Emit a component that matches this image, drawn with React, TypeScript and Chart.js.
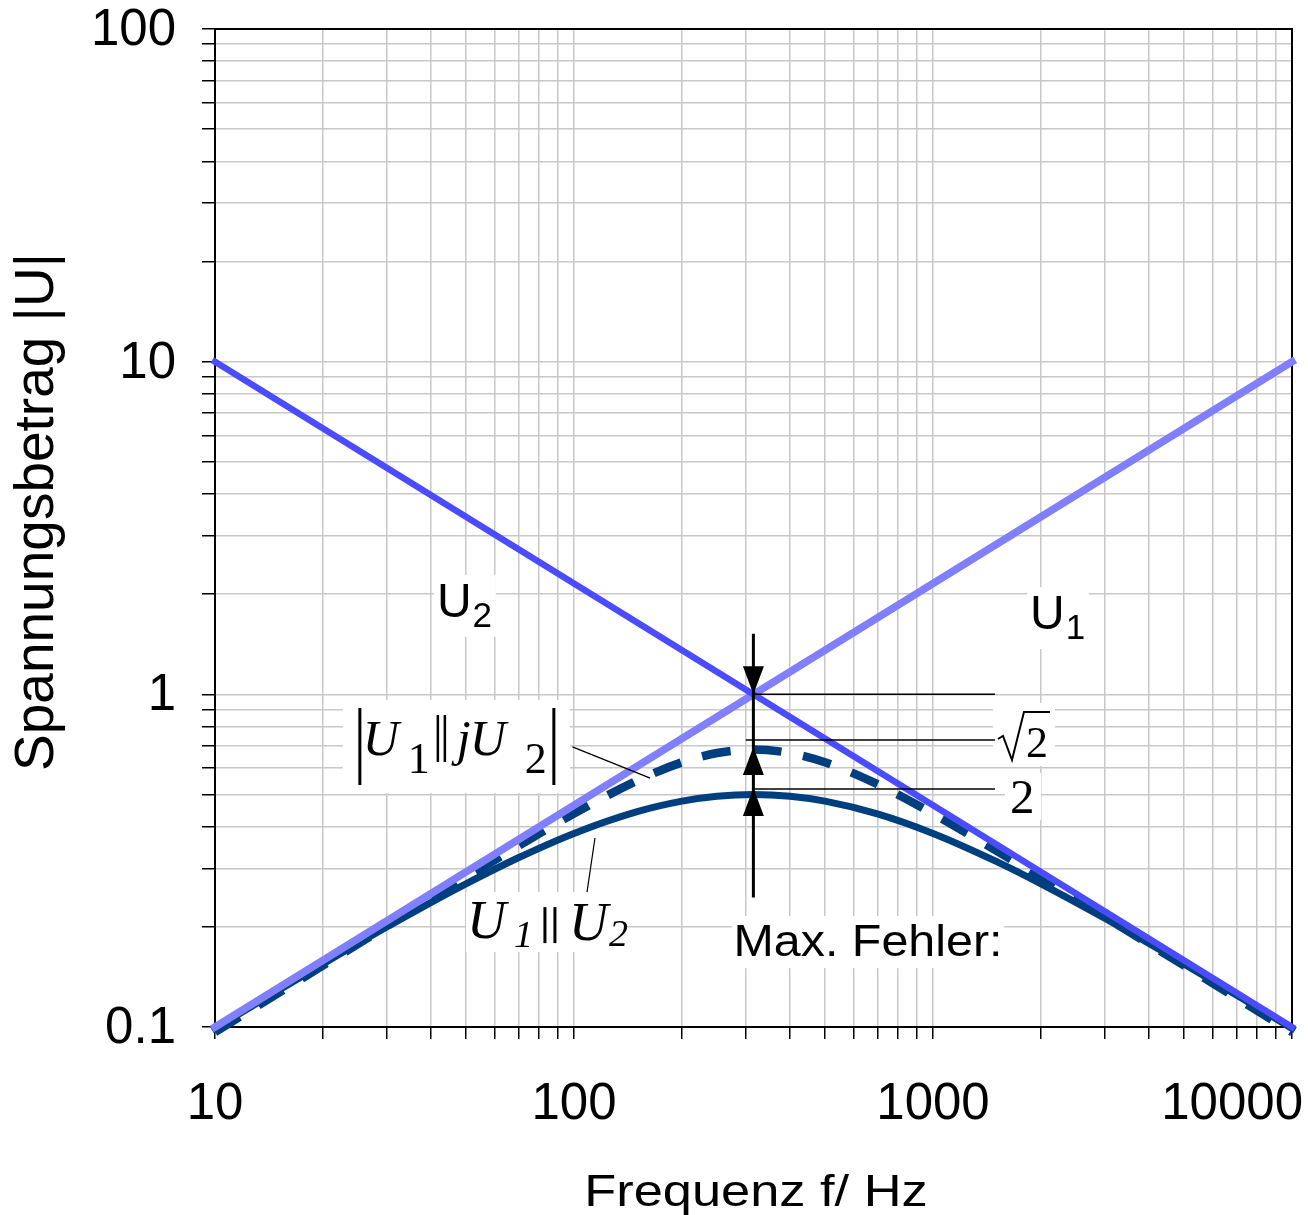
import React, { useEffect, useRef } from "react";
import { Chart, registerables } from "chart.js";

Chart.register(...registerables);

// ---------- data ----------
const curveFreq = [10, 15, 20, 30, 40, 50, 70, 100, 150, 200, 250, 316, 400, 500, 700, 1000, 1500, 2000, 3000, 5000, 7000, 10000];
const parallelVals = [0.099, 0.1288, 0.1548, 0.1994, 0.237, 0.2694, 0.3227, 0.3819, 0.444, 0.4775, 0.4939, 0.5, 0.4939, 0.4776, 0.4372, 0.3819, 0.3147, 0.2694, 0.2126, 0.1548, 0.1248, 0.099];
const complexVals = [0.0965, 0.1264, 0.1531, 0.2005, 0.2427, 0.2811, 0.35, 0.4379, 0.5505, 0.6248, 0.6661, 0.6824, 0.6661, 0.6248, 0.5368, 0.4379, 0.3391, 0.2811, 0.215, 0.1531, 0.1224, 0.0965];
const lineFreq = [10, 10000];
const u1Vals = [0.1, 10];
const u2Vals = [10, 0.1];

const xGridValues = [10, 20, 30, 40, 50, 60, 70, 80, 90, 100, 200, 300, 400, 500, 600, 700, 800, 900, 1000, 2000, 3000, 4000, 5000, 6000, 7000, 8000, 9000, 10000];
const yGridValues = [0.1, 0.2, 0.3, 0.4, 0.5, 0.6, 0.7, 0.8, 0.9, 1, 2, 3, 4, 5, 6, 7, 8, 9, 10, 20, 30, 40, 50, 60, 70, 80, 90, 100];
const xTickValues = [10, 100, 1000, 10000];
const xTickLabels = ["10", "100", "1000", "10000"];
const yTickValues = [0.1, 1, 10, 100];
const yTickLabels = ["0.1", "1", "10", "100"];

const xTitle = "Frequenz f/ Hz";
const yTitle = "Spannungsbetrag |U|";

// annotation anchors (data coordinates: frequency, voltage)
const markerFreq = 316;
const markerLineTop = 1.52;
const markerLineBottom = 0.245;
const arrowDownTip = 1.0;
const arrowUpTips = [0.695, 0.523];
const refLevels = [1.0, 0.729, 0.519];
const refStartFreq = [316, 301, 316];
const refEndFreq = 1488;
const labelU2 = { f: 41.5, v: 1.71 };
const labelU1 = { f: 1863, v: 1.572 };
const labelComplex = { f: 25, v: 0.657 };
const pointerComplex = [{ f: 99, v: 0.695 }, { f: 163, v: 0.56 }];
const labelParallel = { f: 50, v: 0.185 };
const pointerParallel = [{ f: 114.4, v: 0.37 }, { f: 108.7, v: 0.2544 }];
const labelMaxErr = { f: 659, v: 0.1634 };
const labelSqrt2 = { f: 1517, v: 0.648 };
const label2 = { f: 1639, v: 0.4396 };

const COL_U1 = "#8080FF";
const COL_U2 = "#4B4BFF";
const COL_DARK = "#003F7F";
const SANS = "'Liberation Sans', Arial, sans-serif";
const SERIF = "'Liberation Serif', 'Times New Roman', serif";

function text(ctx: any, s: string, x: number, y: number, font: string, align: string = "left", sx: number = 1) {
  ctx.save();
  ctx.font = font;
  ctx.textAlign = align;
  ctx.textBaseline = "alphabetic";
  ctx.fillStyle = "#000";
  ctx.translate(x, y);
  ctx.scale(sx, 1);
  ctx.fillText(s, 0, 0);
  ctx.restore();
}

function line(ctx: any, x1: number, y1: number, x2: number, y2: number, w: number) {
  ctx.save();
  ctx.strokeStyle = "#000";
  ctx.lineWidth = w;
  ctx.beginPath();
  ctx.moveTo(x1, y1);
  ctx.lineTo(x2, y2);
  ctx.stroke();
  ctx.restore();
}

function box(ctx: any, x: number, y: number, w: number, h: number) {
  ctx.save();
  ctx.fillStyle = "#fff";
  ctx.fillRect(x, y, w, h);
  ctx.restore();
}

function tri(ctx: any, x: number, tipY: number, dir: number) {
  // dir = 1: pointing down, -1: pointing up
  const len = 28;
  const hw = 10.5;
  ctx.save();
  ctx.fillStyle = "#000";
  ctx.beginPath();
  ctx.moveTo(x, tipY);
  ctx.lineTo(x - hw, tipY - dir * len);
  ctx.lineTo(x + hw, tipY - dir * len);
  ctx.closePath();
  ctx.fill();
  ctx.restore();
}

const annotationPlugin = {
  id: "annot",
  beforeDatasetsDraw(chart: any) {
    const { ctx, chartArea: a } = chart;
    ctx.save();
    ctx.strokeStyle = "#000";
    ctx.lineWidth = 2;
    ctx.beginPath();
    ctx.moveTo(a.left, a.top);
    ctx.lineTo(a.right, a.top);
    ctx.lineTo(a.right, a.bottom);
    ctx.stroke();
    ctx.restore();
  },
  afterDatasetsDraw(chart: any) {
    const ctx = chart.ctx;
    const xs = chart.scales.x;
    const ys = chart.scales.y;
    const X = (f: number) => xs.getPixelForValue(f);
    const Y = (v: number) => ys.getPixelForValue(v);

    // U2 / U1 labels
    const uLabel = (p: any, sub: string) => {
      const x = X(p.f), y = Y(p.v);
      box(ctx, x - 3, y - 42, 62, 62);
      ctx.save();
      ctx.font = `48px ${SANS}`;
      const w = ctx.measureText("U").width;
      ctx.restore();
      text(ctx, "U", x, y, `48px ${SANS}`);
      text(ctx, sub, x + w + 1, y + 10, `35px ${SANS}`);
    };
    uLabel(labelU2, "2");
    uLabel(labelU1, "1");

    // |U1 || jU2| label
    {
      const ax = X(labelComplex.f), ay = Y(labelComplex.v);
      box(ctx, ax - 15, ay - 55, 227, 93);
      line(ctx, ax + 2, ay - 47, ax + 2, ay + 30, 3);
      text(ctx, "U", ax + 5, ay, `italic 50px ${SERIF}`);
      text(ctx, "1", ax + 50, ay + 18, `44px ${SERIF}`);
      line(ctx, ax + 80, ay - 40, ax + 80, ay + 7, 2.5);
      line(ctx, ax + 87, ay - 40, ax + 87, ay + 7, 2.5);
      text(ctx, "j", ax + 99, ay, `italic 50px ${SERIF}`);
      text(ctx, "U", ax + 112, ay, `italic 50px ${SERIF}`);
      text(ctx, "2", ax + 167, ay + 18, `44px ${SERIF}`);
      line(ctx, ax + 196, ay - 47, ax + 196, ay + 30, 3);
      line(ctx, X(pointerComplex[0].f), Y(pointerComplex[0].v), X(pointerComplex[1].f), Y(pointerComplex[1].v), 1.2);
    }

    // U1 || U2 label
    {
      const bx = X(labelParallel.f), by = Y(labelParallel.v);
      box(ctx, bx, by - 46, 160, 60);
      text(ctx, "U", bx + 1, by, `italic 54px ${SERIF}`);
      text(ctx, "1", bx + 48, by + 9, `italic 38px ${SERIF}`);
      line(ctx, bx + 79, by - 31, bx + 79, by + 5, 3);
      line(ctx, bx + 89, by - 31, bx + 89, by + 5, 3);
      text(ctx, "U", bx + 103, by + 2, `italic 54px ${SERIF}`);
      text(ctx, "2", bx + 143, by + 8, `italic 38px ${SERIF}`);
      line(ctx, X(pointerParallel[0].f), Y(pointerParallel[0].v), X(pointerParallel[1].f), Y(pointerParallel[1].v), 1.2);
    }

    // Max. Fehler:
    {
      const ex = X(labelMaxErr.f), ey = Y(labelMaxErr.v);
      box(ctx, ex - 136, ey - 40, 272, 52);
      text(ctx, "Max. Fehler:", ex, ey, `44px ${SANS}`, "center", 1.1);
    }

    // sqrt(2) and 2 labels
    {
      const sx = X(labelSqrt2.f), sy = Y(labelSqrt2.v);
      box(ctx, sx - 5, sy - 54, 62, 63);
      ctx.save();
      ctx.strokeStyle = "#000";
      ctx.lineWidth = 2;
      ctx.lineJoin = "miter";
      ctx.beginPath();
      ctx.moveTo(sx, sy - 18);
      ctx.lineTo(sx + 5, sy - 21);
      ctx.lineTo(sx + 14, sy + 3);
      ctx.lineTo(sx + 26, sy - 45);
      ctx.lineTo(sx + 52, sy - 45);
      ctx.stroke();
      ctx.restore();
      text(ctx, "2", sx + 28, sy, `44px ${SERIF}`);

      const gx = X(label2.f), gy = Y(label2.v);
      box(ctx, gx - 5, gy - 40, 36, 47);
      text(ctx, "2", gx, gy, `49px ${SERIF}`);
    }

    // reference lines
    refLevels.forEach((v, i) => {
      line(ctx, X(refStartFreq[i]), Y(v), X(refEndFreq), Y(v), 1.5);
    });

    // marker arrow
    const mx = X(markerFreq);
    line(ctx, mx, Y(markerLineTop), mx, Y(markerLineBottom), 3);
    tri(ctx, mx, Y(arrowDownTip), 1);
    arrowUpTips.forEach((v) => tri(ctx, mx, Y(v), -1));
  },
  afterDraw(chart: any) {
    const ctx = chart.ctx;
    const xs = chart.scales.x;
    const ys = chart.scales.y;
    const W = chart.width;
    yTickValues.forEach((v, i) => {
      text(ctx, yTickLabels[i], 176, ys.getPixelForValue(v) + 16, `51px ${SANS}`, "right");
    });
    xTickValues.forEach((v, i) => {
      const px = xs.getPixelForValue(v);
      ctx.save();
      ctx.font = `51px ${SANS}`;
      const w = ctx.measureText(xTickLabels[i]).width;
      ctx.restore();
      if (px + w / 2 > W - 4) {
        text(ctx, xTickLabels[i], W - 5, 1119, `51px ${SANS}`, "right");
      } else {
        text(ctx, xTickLabels[i], px, 1119, `51px ${SANS}`, "center");
      }
    });
    text(ctx, xTitle, 756, 1206, `44px ${SANS}`, "center", 1.19);
    ctx.save();
    ctx.translate(53, 512);
    ctx.rotate(-Math.PI / 2);
    text(ctx, yTitle, 0, 0, `55px ${SANS}`, "center");
    ctx.restore();
  },
};

export default function App() {
  const ref = useRef<HTMLCanvasElement | null>(null);
  useEffect(() => {
    if (!ref.current) return;
    const toXY = (xs: number[], ys: number[]) => xs.map((x, i) => ({ x, y: ys[i] }));
    const chart = new Chart(ref.current, {
      type: "line",
      data: {
        datasets: [
          { data: toXY(lineFreq, u2Vals), borderColor: COL_U2, borderWidth: 6.5, borderCapStyle: "square", pointRadius: 0, tension: 0, clip: false },
          { data: toXY(lineFreq, u1Vals), borderColor: COL_U1, borderWidth: 7.5, borderCapStyle: "square", pointRadius: 0, tension: 0, clip: false },
          { data: toXY(curveFreq, complexVals), borderColor: COL_DARK, borderWidth: 8.5, borderDash: [29, 22], pointRadius: 0, cubicInterpolationMode: "monotone", clip: false },
          { data: toXY(curveFreq, parallelVals), borderColor: COL_DARK, borderWidth: 7, borderCapStyle: "square", pointRadius: 0, cubicInterpolationMode: "monotone", clip: false },
        ] as any,
      },
      options: {
        responsive: false,
        maintainAspectRatio: false,
        animation: false,
        devicePixelRatio: 1,
        events: [],
        layout: { padding: { top: 29, right: 16, left: 0, bottom: 0 } },
        plugins: { legend: { display: false }, tooltip: { enabled: false } },
        scales: {
          x: {
            type: "logarithmic",
            min: 10,
            max: 10000,
            afterBuildTicks: (s: any) => {
              s.ticks = xGridValues.map((v) => ({ value: v }));
            },
            afterFit: (s: any) => {
              s.height = 188;
            },
            ticks: { display: false, autoSkip: false },
            grid: { color: "#c8c8c8", lineWidth: 1.5, tickColor: "#000", tickLength: 12, tickWidth: 1.5 },
            border: { color: "#000", width: 2 },
          },
          y: {
            type: "logarithmic",
            min: 0.1,
            max: 100,
            afterBuildTicks: (s: any) => {
              s.ticks = yGridValues.map((v) => ({ value: v }));
            },
            afterFit: (s: any) => {
              s.width = 215;
            },
            ticks: { display: false, autoSkip: false },
            grid: { color: "#c8c8c8", lineWidth: 1.5, tickColor: "#000", tickLength: 13, tickWidth: 1.5 },
            border: { color: "#000", width: 2 },
          },
        },
      } as any,
      plugins: [annotationPlugin],
    });
    return () => chart.destroy();
  }, []);
  return (
    <div style={{ position: "fixed", left: 0, top: 0, width: 1308, height: 1215, background: "#fff" }}>
      <canvas ref={ref} width={1308} height={1215} style={{ width: 1308, height: 1215, display: "block" }} />
    </div>
  );
}
